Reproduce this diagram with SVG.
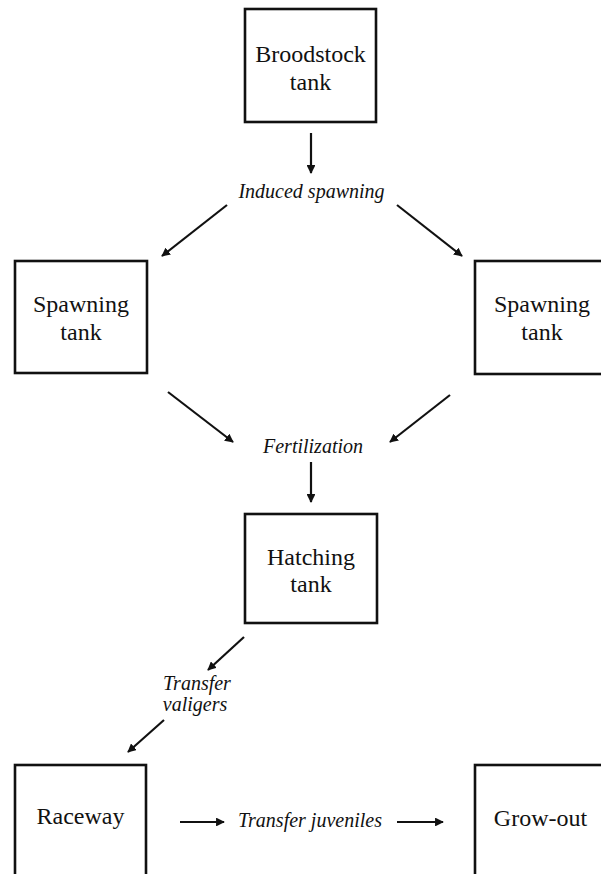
<svg xmlns="http://www.w3.org/2000/svg" width="601" height="874" viewBox="0 0 601 874">
<style>
.box{fill:#fff;stroke:#111;stroke-width:2.6}
.lbl{font-family:"Liberation Serif","Times New Roman",serif;font-size:24px;fill:#111;text-anchor:middle}
.it{font-family:"Liberation Serif","Times New Roman",serif;font-size:20px;font-style:italic;fill:#111;text-anchor:middle}
.arr{stroke:#111;stroke-width:2.2;fill:none;marker-end:url(#ah)}
</style>
<defs>
<marker id="ah" viewBox="0 0 10 10" refX="9" refY="5" markerWidth="4" markerHeight="4" orient="auto" markerUnits="strokeWidth">
<path d="M0,0 L10,5 L0,10 z" fill="#111"/>
</marker>
</defs>
<rect width="601" height="874" fill="#fff"/>
<g id="broodstock">
<rect class="box" x="245" y="9" width="131" height="113"/>
<text class="lbl" x="310.5" y="62">Broodstock</text>
<text class="lbl" x="310.5" y="90">tank</text>
</g>
<g id="spawning-left">
<rect class="box" x="15" y="261" width="132" height="112"/>
<text class="lbl" x="81" y="312">Spawning</text>
<text class="lbl" x="81" y="340">tank</text>
</g>
<g id="spawning-right">
<rect class="box" x="475" y="261" width="134" height="113"/>
<text class="lbl" x="542" y="312">Spawning</text>
<text class="lbl" x="542" y="340">tank</text>
</g>
<g id="hatching">
<rect class="box" x="245" y="514" width="132" height="109"/>
<text class="lbl" x="311" y="565">Hatching</text>
<text class="lbl" x="311" y="592">tank</text>
</g>
<g id="raceway">
<rect class="box" x="15" y="765" width="131" height="120"/>
<text class="lbl" x="80.5" y="824">Raceway</text>
</g>
<g id="growout">
<rect class="box" x="475" y="765" width="134" height="120"/>
<text class="lbl" x="540.5" y="826">Grow-out</text>
</g>
<g id="labels">
<text class="it" x="311.5" y="198">Induced spawning</text>
<text class="it" x="313" y="453">Fertilization</text>
<text class="it" x="197" y="690">Transfer</text>
<text class="it" x="195" y="711">valigers</text>
<text class="it" x="310" y="827">Transfer juveniles</text>
</g>
<g id="connectors">
<line class="arr" x1="311" y1="133" x2="311" y2="173"/>
<line class="arr" x1="227" y1="205" x2="162" y2="256"/>
<line class="arr" x1="397" y1="205" x2="462" y2="256"/>
<line class="arr" x1="168" y1="392" x2="233" y2="442"/>
<line class="arr" x1="450" y1="395" x2="390" y2="442"/>
<line class="arr" x1="311" y1="462" x2="311" y2="502"/>
<line class="arr" x1="244" y1="637" x2="208" y2="670"/>
<line class="arr" x1="164" y1="720" x2="128" y2="752"/>
<line class="arr" x1="180" y1="822" x2="224" y2="822"/>
<line class="arr" x1="397" y1="822" x2="443" y2="822"/>
</g>
</svg>
